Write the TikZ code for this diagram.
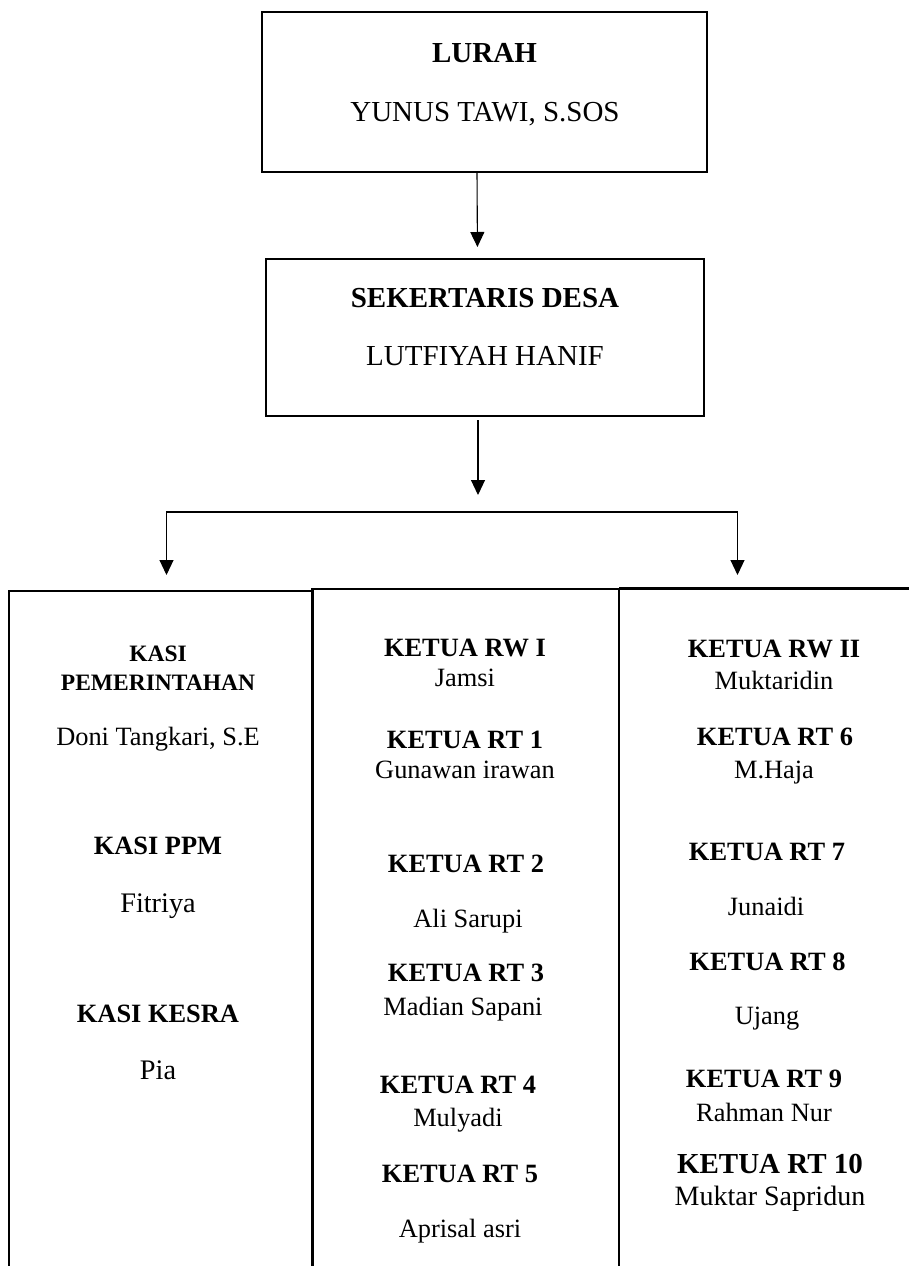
\documentclass[tikz,border=0pt]{standalone}
\usepackage{fontspec}
\setmainfont{Liberation Serif}
\usetikzlibrary{arrows.meta}
\tikzset{
  box/.style={draw, line width=2.6pt, inner sep=0pt, outer sep=0pt, anchor=north west},
  colline/.style={line width=2.4pt},
  conn/.style={line width=1.1pt, -{Triangle[length=15pt,width=14pt]}},
  conn2/.style={line width=1.1pt, {Triangle[length=15pt,width=14pt]}-{Triangle[length=15pt,width=14pt]}},
  txt/.style={anchor=base, inner sep=0pt, outer sep=0pt},
  bigb/.style={txt, font=\fontsize{29}{34}\selectfont\bfseries},
  bigr/.style={txt, font=\fontsize{29}{34}\selectfont},
  midb/.style={txt, font=\fontsize{26.4}{31}\selectfont\bfseries},
  midr/.style={txt, font=\fontsize{26.4}{31}\selectfont},
  smlb/.style={txt, font=\fontsize{23.5}{28}\selectfont\bfseries},
  lrgr/.style={txt, font=\fontsize{28.3}{33}\selectfont},
  tenb/.style={txt, font=\fontsize{29}{34}\selectfont\bfseries},
  tenr/.style={txt, font=\fontsize{28}{33}\selectfont}
}
\begin{document}
\begin{tikzpicture}[x=1pt,y=-1pt]
\useasboundingbox (0,0) rectangle (909,1266);
% top boxes
\node[box, minimum width=445pt, minimum height=160pt] (lurah) at (262,12) {};
\node[box, minimum width=438pt, minimum height=157pt] (sek) at (266,259) {};
\node[bigb] (t1) at (484.5,62.7) {LURAH};
\node[bigr] (t2) at (485,121.7) {YUNUS TAWI, S.SOS};
\node[bigb] (t3) at (485,307.7) {SEKERTARIS DESA};
\node[bigr] (t4) at (485,365) {LUTFIYAH HANIF};
% connectors
\draw[conn, shorten >=12pt] ([xshift=-7.5pt]lurah.south) -- ([xshift=-7.5pt]sek.north);
\coordinate (mtip) at (478,495);
\draw[conn, shorten <=4pt] ([xshift=-7pt]sek.south) -- (mtip);
\coordinate (bl) at (166.5,575);
\coordinate (btop) at (450,512);
\coordinate (br) at (737.5,575);
\draw[conn2] (bl) |- (btop) -| (br);
% columns
\draw[colline] (9,1270) -- (9,591) -- (312.5,591);
\draw[colline] (312.5,1270) -- (312.5,589) -- (619,589) -- (619,1270);
\draw[colline] (619,588.5) -- (912,588.5);
% left column
\node[smlb] (k1) at (158,661.7) {KASI};
\node[smlb] (k2) at (158,690) {PEMERINTAHAN};
\node[midr] (k3) at (158,745) {Doni Tangkari, S.E};
\node[midb] (k4) at (158,854.3) {KASI PPM};
\node[lrgr] (k5) at (158,912.3) {Fitriya};
\node[midb] (k6) at (158,1022.7) {KASI KESRA};
\node[lrgr] (k7) at (158,1079) {Pia};
% middle column
\node[midb] (m1) at (465,656) {KETUA RW I};
\node[midr] (m2) at (465,686) {Jamsi};
\node[midb] (m3) at (465,748.3) {KETUA RT 1};
\node[midr] (m4) at (465,778.3) {Gunawan irawan};
\node[midb] (m5) at (466,872.7) {KETUA RT 2};
\node[midr] (m6) at (468,927.3) {Ali Sarupi};
\node[midb] (m7) at (466,981.7) {KETUA RT 3};
\node[midr] (m8) at (463,1015) {Madian Sapani};
\node[midb] (m9) at (458,1093.3) {KETUA RT 4};
\node[midr] (m10) at (458,1126) {Mulyadi};
\node[midb] (m11) at (460,1182) {KETUA RT 5};
\node[midr] (m12) at (460,1237) {Aprisal asri};
% right column
\node[midb] (r1) at (774,657.3) {KETUA RW II};
\node[midr] (r2) at (774,689.3) {Muktaridin};
\node[midb] (r3) at (775,745.7) {KETUA RT 6};
\node[midr] (r4) at (774,778.3) {M.Haja};
\node[midb] (r5) at (767,860) {KETUA RT 7};
\node[midr] (r6) at (766,915) {Junaidi};
\node[midb] (r7) at (767.5,970) {KETUA RT 8};
\node[midr] (r8) at (767,1024) {Ujang};
\node[midb] (r9) at (764,1087.7) {KETUA RT 9};
\node[midr] (r10) at (764,1121) {Rahman Nur};
\node[tenb] (r11) at (770,1173) {KETUA RT 10};
\node[tenr] (r12) at (770,1205) {Muktar Sapridun};
\end{tikzpicture}
\end{document}
